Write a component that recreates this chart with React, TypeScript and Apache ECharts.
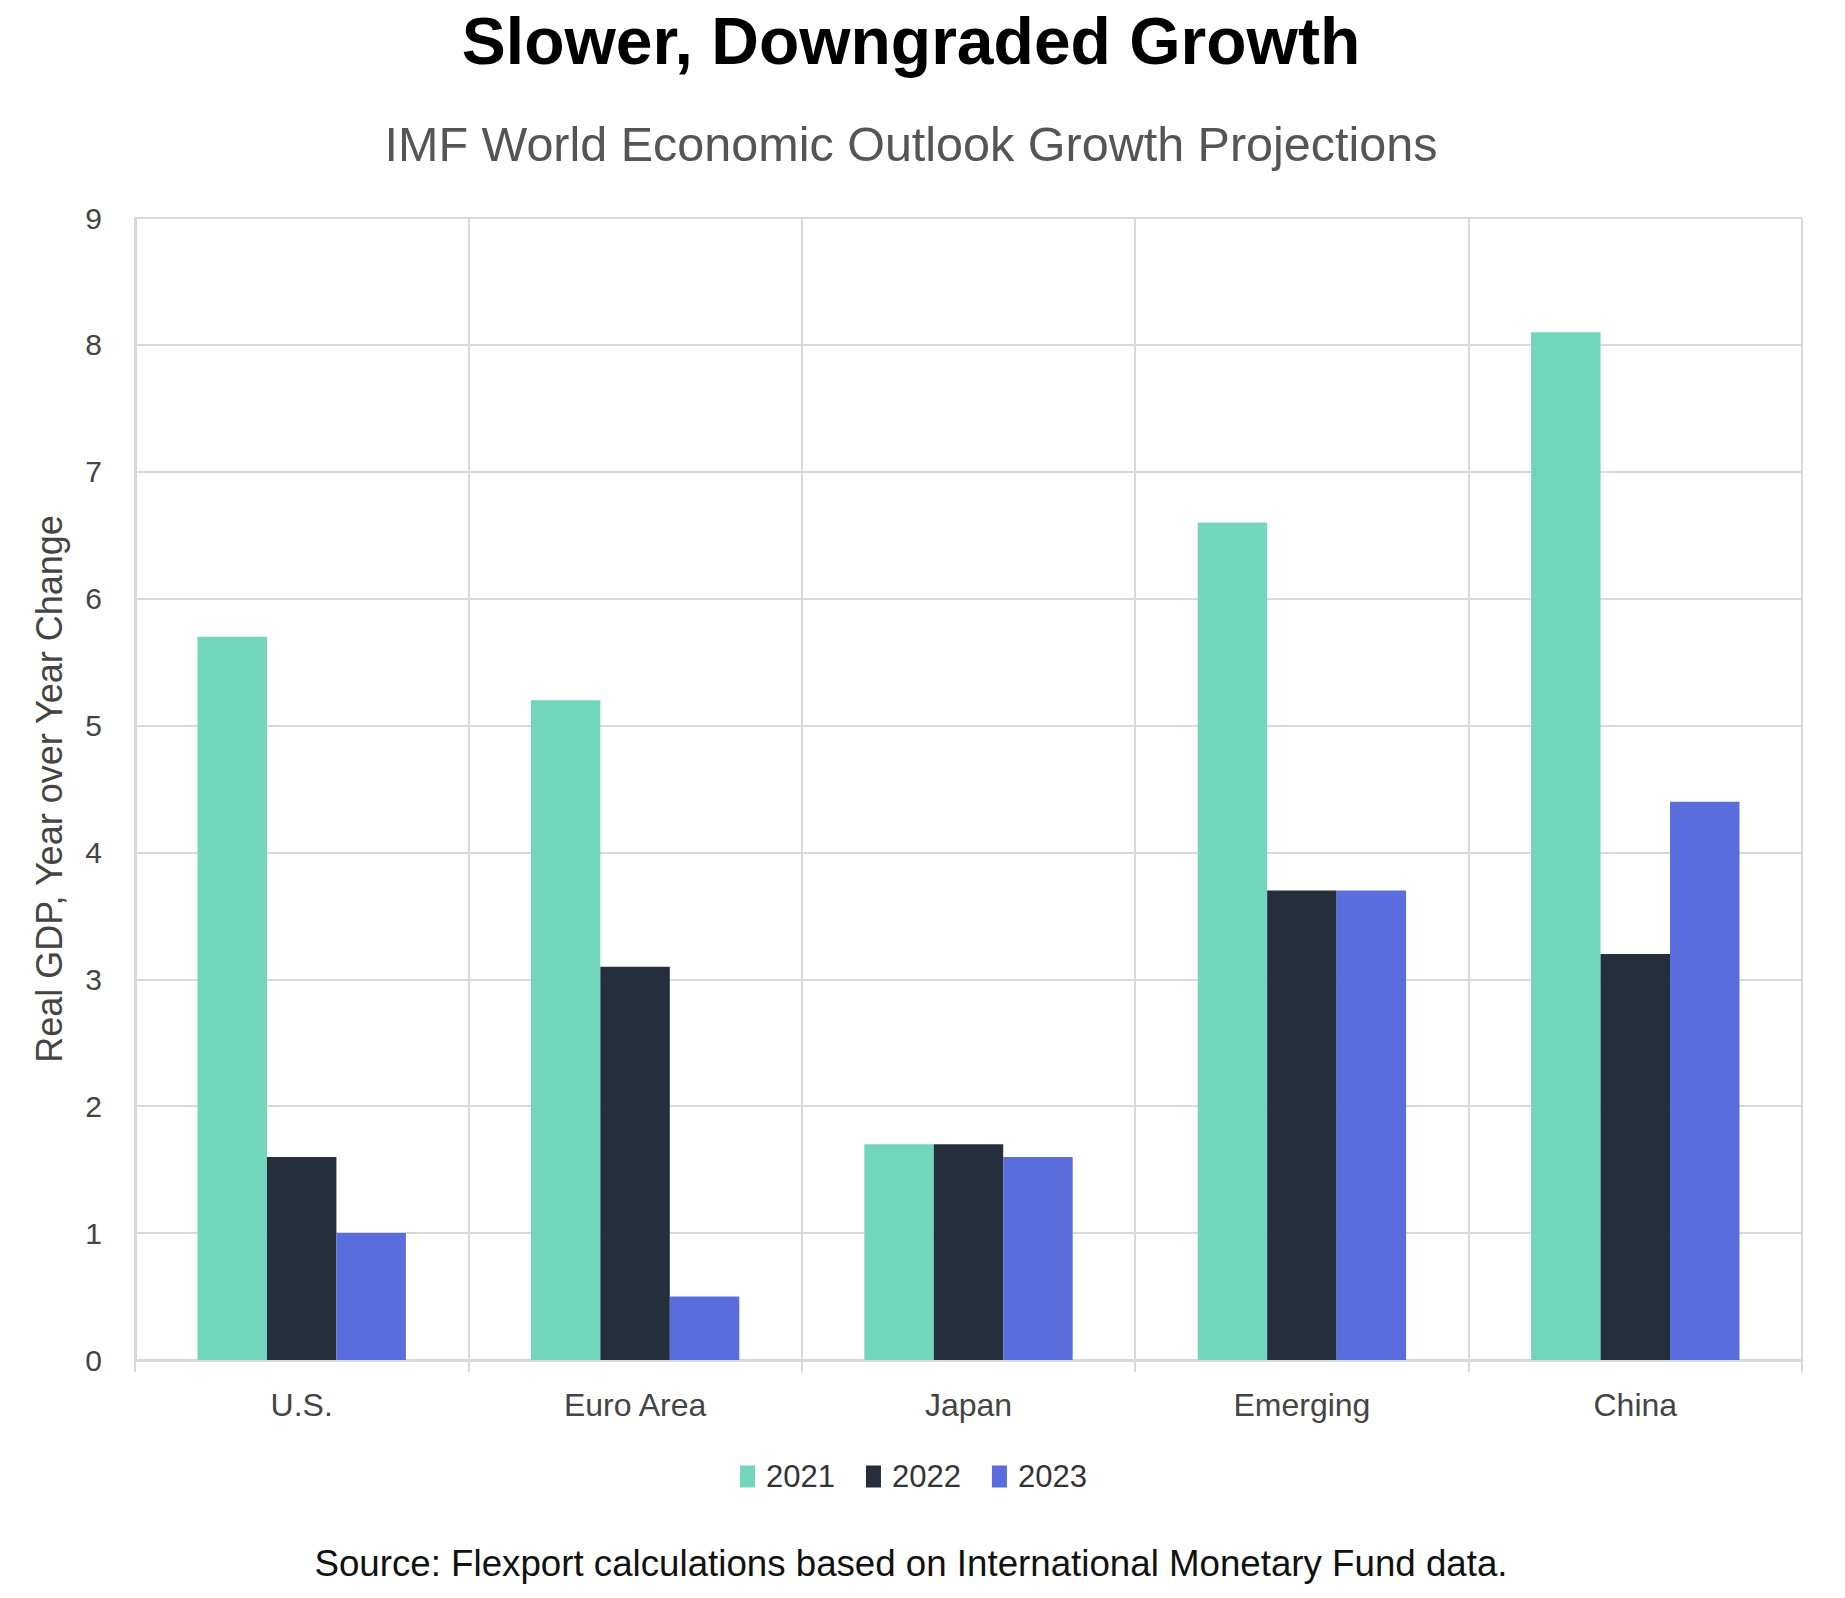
import React, { useEffect, useRef } from "react";
import * as echarts from "echarts";

const categories = ["U.S.", "Euro Area", "Japan", "Emerging", "China"];
const seriesNames = ["2021", "2022", "2023"];
const values2021 = [5.7, 5.2, 1.7, 6.6, 8.1];
const values2022 = [1.6, 3.1, 1.7, 3.7, 3.2];
const values2023 = [1.0, 0.5, 1.6, 3.7, 4.4];
const colors = ["#72D6BD", "#252F3B", "#5A6DDC"];

const titleText = "Slower, Downgraded Growth";
const subtitleText = "IMF World Economic Outlook Growth Projections";
const sourceText = "Source: Flexport calculations based on International Monetary Fund data.";
const yAxisName = "Real GDP, Year over Year Change";

const FONT = "'Liberation Sans', Arial, sans-serif";
const GRID = "#d9d9d9";
const CX = 911;

export default function App() {
  const ref = useRef<HTMLDivElement>(null);
  useEffect(() => {
    if (!ref.current) return;
    const chart = echarts.init(ref.current, undefined, { renderer: "svg" });
    const data = [values2021, values2022, values2023];
    chart.setOption({
      animation: false,
      backgroundColor: "#ffffff",
      textStyle: { fontFamily: FONT },
      graphic: [
        {
          type: "text",
          x: CX,
          y: 41,
          style: {
            text: titleText,
            align: "center",
            verticalAlign: "middle",
            fontFamily: FONT,
            fontSize: 66,
            fontWeight: "bold",
            fill: "#000000",
          },
        },
        {
          type: "text",
          x: CX,
          y: 144,
          style: {
            text: subtitleText,
            align: "center",
            verticalAlign: "middle",
            fontFamily: FONT,
            fontSize: 48.5,
            fill: "#555555",
          },
        },
        {
          type: "text",
          x: CX,
          y: 1563,
          style: {
            text: sourceText,
            align: "center",
            verticalAlign: "middle",
            fontFamily: FONT,
            fontSize: 36.7,
            fill: "#111111",
          },
        },
      ],
      legend: {
        data: seriesNames,
        left: 735,
        top: 1456,
        itemWidth: 15,
        itemHeight: 22,
        itemGap: 31,
        icon: "rect",
        textStyle: { fontFamily: FONT, fontSize: 31, color: "#333333", padding: [0, 0, 0, 6] },
      },
      grid: { left: 135, right: 43, top: 218, bottom: 238, containLabel: false },
      xAxis: {
        type: "category",
        data: categories,
        boundaryGap: true,
        axisLine: { show: true, lineStyle: { color: GRID, width: 3 } },
        axisTick: { show: true, length: 12, lineStyle: { color: GRID, width: 2 } },
        splitLine: { show: true, lineStyle: { color: GRID, width: 2 } },
        axisLabel: { fontFamily: FONT, fontSize: 32, color: "#444444", margin: 29 },
      },
      yAxis: {
        type: "value",
        min: 0,
        max: 9,
        interval: 1,
        name: yAxisName,
        nameLocation: "middle",
        nameGap: 68,
        nameRotate: 90,
        nameTextStyle: { fontFamily: FONT, fontSize: 36, color: "#444444" },
        axisLine: { show: true, lineStyle: { color: GRID, width: 3 } },
        axisTick: { show: false },
        splitLine: { show: true, lineStyle: { color: GRID, width: 2 } },
        axisLabel: { fontFamily: FONT, fontSize: 30, color: "#444444", margin: 33 },
      },
      series: seriesNames.map((name, i) => ({
        name,
        type: "bar",
        data: data[i],
        barGap: "0%",
        barCategoryGap: "37.5%",
        itemStyle: { color: colors[i] },
      })),
    });
    return () => chart.dispose();
  }, []);
  return (
    <div
      ref={ref}
      style={{ position: "fixed", left: 0, top: 0, width: 1845, height: 1598, background: "#fff" }}
    />
  );
}
